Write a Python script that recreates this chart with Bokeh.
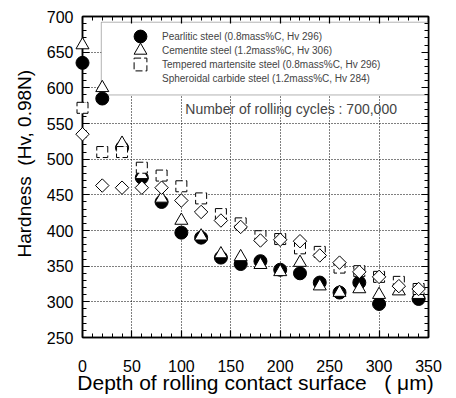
import math
from bokeh.plotting import figure
from bokeh.models import (Range1d, LinearAxis, Legend, LegendItem, Label, Title,
                          BoxAnnotation, SingleIntervalTicker, CustomJSTickFormatter)
from bokeh.embed import file_html
from bokeh.resources import INLINE

NaN = float("nan")
depth = [0, 20, 40, 60, 80, 100, 120, 140, 160, 180, 200, 220, 240, 260, 280, 300, 320, 340]
pearlitic = [635, 585, 516, 474, 440, 397, 390, 362, 353, 357, 345, 340, 327, 313, 327, 297, NaN, 304]
cementite = [660, 600, 522, 478, 445, 414, 392, 367, 363, 352, 342, 355, 322, 313, 318, 310, 315, 310]
tempered = [572, 510, 510, 488, 477, 462, 445, 423, 410, 392, 388, 375, 370, 348, 343, 335, 328, 318]
spheroidal = [535, 463, 460, 460, 460, 442, 426, 414, 405, 386, 387, 385, 365, 355, 342, 335, 322, 318]

labels = ["Pearlitic steel (0.8mass%C, Hv 296)",
          "Cementite steel (1.2mass%C, Hv 306)",
          "Tempered martensite steel (0.8mass%C, Hv 296)",
          "Spheroidal carbide steel (1.2mass%C, Hv 284)"]
note = "Number of rolling cycles : 700,000"
xlabel = "Depth of rolling contact surface \u00a0 ( \u03bcm)"
ylabel = "Hardness \u00a0(Hv, 0.98N)"

FONT = "Liberation Sans"

p = figure(width=456, height=398, output_backend="svg", toolbar_location=None,
           x_range=Range1d(0, 350), y_range=Range1d(250, 700),
           min_border_left=82, min_border_right=28, min_border_top=16, min_border_bottom=61,
           x_axis_location=None, y_axis_location=None)
p.outline_line_color = "black"
p.outline_line_width = 1.5

def style_axis(ax, show_labels, standoff):
    ax.axis_line_color = "black"
    ax.axis_line_width = 1.5
    ax.major_tick_in = 7
    ax.major_tick_out = 0
    ax.minor_tick_in = 4
    ax.minor_tick_out = 0
    ax.major_tick_line_color = "black"
    ax.minor_tick_line_color = "black"
    ax.major_tick_line_width = 1.2
    ax.minor_tick_line_width = 1
    ax.major_label_text_font = FONT
    ax.major_label_text_color = "black"
    if show_labels:
        ax.major_label_text_font_size = "16px"
        ax.major_label_standoff = standoff
    else:
        # mirrored axes: ticks only, no labels
        ax.formatter = CustomJSTickFormatter(code="return ''")
        ax.major_label_text_font_size = "1px"
        ax.major_label_standoff = 0

xt = SingleIntervalTicker(interval=50, num_minor_ticks=5)
yt = SingleIntervalTicker(interval=50, num_minor_ticks=5)
xb = LinearAxis(ticker=xt); style_axis(xb, True, 22)
yl = LinearAxis(ticker=yt); style_axis(yl, True, 9)
xa = LinearAxis(ticker=SingleIntervalTicker(interval=50, num_minor_ticks=5)); style_axis(xa, False, 0)
yr = LinearAxis(ticker=SingleIntervalTicker(interval=50, num_minor_ticks=5)); style_axis(yr, False, 0)

xb.axis_label = xlabel
xb.axis_label_text_font = FONT
xb.axis_label_text_font_size = "21px"
xb.axis_label_text_font_style = "normal"
xb.axis_label_text_color = "black"
xb.axis_label_standoff = -4

p.add_layout(xb, "below")
p.add_layout(yl, "left")
p.add_layout(xa, "above")
p.add_layout(yr, "right")

p.add_layout(Title(text=ylabel, align="left", offset=80, text_font=FONT,
                   text_font_size="19px", text_font_style="normal",
                   text_color="black", standoff=17), "left")

p.xgrid.ticker = xt
p.ygrid.ticker = yt
p.xgrid.grid_line_color = "black"
p.ygrid.grid_line_color = "black"
p.xgrid.grid_line_dash = "1 2"
p.ygrid.grid_line_dash = "1 2"
p.xgrid.grid_line_width = 1
p.ygrid.grid_line_width = 1

box = BoxAnnotation(left=19, right=350, bottom=590, top=692, fill_color="white",
                    fill_alpha=1, line_color="black", line_width=1, level="glyph")
p.add_layout(box)

r1 = p.scatter(depth, pearlitic, marker="circle", size=13, fill_color="black",
               line_color="black", level="overlay")
r2 = p.scatter(depth, cementite, marker="triangle", size=13, fill_color="white",
               line_color="black", line_width=1, level="overlay")
r3 = p.scatter(depth, tempered, marker="square", size=11, fill_color="white",
               line_color="black", line_width=1, line_dash="7 3", level="overlay")
r4 = p.scatter(depth, spheroidal, marker="square", angle=math.pi / 4, size=9.5,
               fill_color="white", line_color="black", line_width=1, level="overlay")
# legend-only proxy for the diamond symbol (legend glyphs ignore marker angle)
r4_key = p.scatter(x=[], y=[], marker="diamond", size=12, fill_color="white",
                   line_color="black", line_width=1)

# one legend per row so that the legend glyphs keep the plotted marker size
for i, r in enumerate([r1, r2, r3, r4_key]):
    lg = Legend(items=[LegendItem(label=labels[i], renderers=[r])],
                location=(42, 285 - 14 * i), padding=0, spacing=0, glyph_width=32,
                glyph_height=32, label_height=14, label_standoff=6,
                label_text_font=FONT, label_text_font_size="10px",
                border_line_alpha=0, background_fill_alpha=0, margin=0)
    p.add_layout(lg)

p.add_layout(Label(x=104, y=570, text=note, text_font=FONT, text_font_size="14px",
                   text_baseline="middle", text_align="left"))

open("out.html", "w").write(file_html(p, INLINE))
